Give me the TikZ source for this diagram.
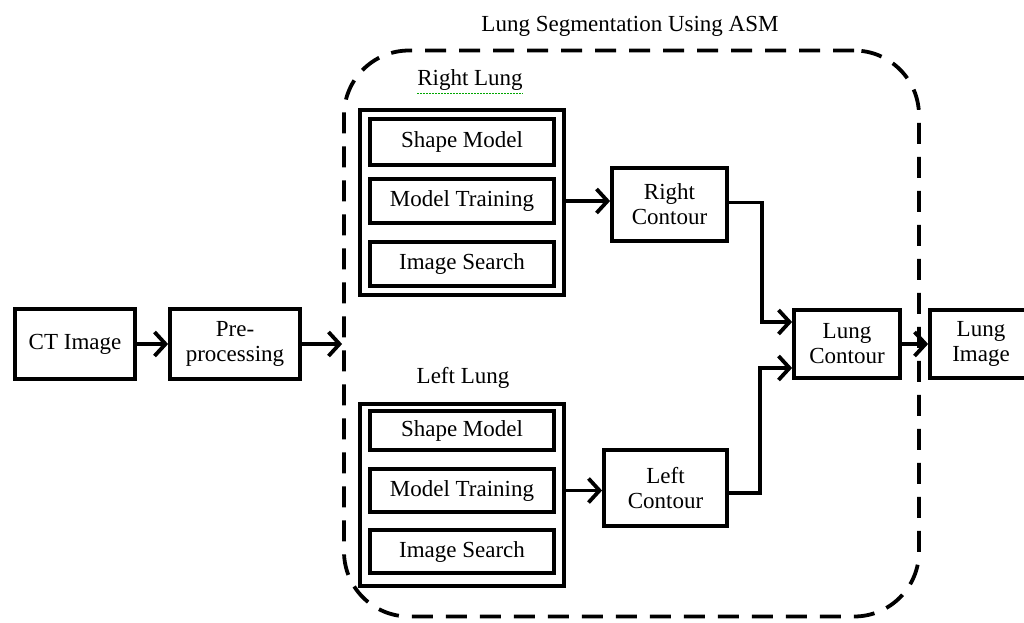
\documentclass[tikz,border=0pt]{standalone}
\usepackage{fontspec}
\setmainfont{Liberation Serif}
\usetikzlibrary{arrows.meta}
\begin{document}
\begin{tikzpicture}[x=1pt,y=-1pt,
  font=\fontsize{23}{25}\selectfont,
  blk/.style={draw,line width=3.8pt,inner sep=0pt,align=center},
  inbox/.style={draw,line width=4.5pt,inner sep=0pt,minimum width=184pt,align=center},
  arr/.style={line width=3.8pt,-{Straight Barb[length=11pt,width=24pt]}},
  lbl/.style={inner sep=0pt}]
\clip (0,0) rectangle (1024,622);
\fill[white] (0,0) rectangle (1024,622);
% container
\node[draw,dashed,dash pattern=on 21pt off 13pt,line width=3.8pt,rounded corners=65pt,
      minimum width=575pt,minimum height=566pt] (asm) at (631.5,333.5) {};
\node[lbl] (title) at (630,26) {Lung Segmentation Using ASM};
% left chain
\node[blk,minimum width=120pt,minimum height=70pt] (ct) at (75,344) {CT Image};
\node[blk,minimum width=130pt,minimum height=70pt] (pre) at (235,344) {Pre-\\processing};
% right lung
\node[lbl] (rl) at (470,80) {Right Lung};
\draw[green!65!black,dash pattern=on 1.5pt off 1.5pt,line width=1.6pt] ([yshift=-3pt]rl.south west) -- ([yshift=-3pt]rl.south east);
\node[blk,minimum width=204pt,minimum height=185pt] (rout) at (462,202.5) {};
\node[inbox,minimum height=46pt] (rshape) at (462,142) {Shape Model};
\node[inbox,minimum height=44pt] (rtrain) at (462,201) {Model Training};
\node[inbox,minimum height=44pt] (rsearch) at (462,264) {Image Search};
\node[blk,minimum width=115pt,minimum height=73pt] (rc) at (669.5,204.5) {Right\\Contour};
% left lung
\node[lbl] (ll) at (463,378) {Left Lung};
\node[blk,minimum width=204pt,minimum height=182pt] (lout) at (462,495) {};
\node[inbox,minimum height=39pt] (lshape) at (462,430.5) {Shape Model};
\node[inbox,minimum height=43pt] (ltrain) at (462,490.5) {Model Training};
\node[inbox,minimum height=43pt] (lsearch) at (462,551.5) {Image Search};
\node[blk,minimum width=123pt,minimum height=76pt] (lc) at (665.5,488) {Left\\Contour};
% output
\node[blk,minimum width=106pt,minimum height=68pt] (lcont) at (847,344) {Lung\\Contour};
\node[blk,minimum width=102pt,minimum height=68pt] (limg) at (981,344) {Lung\\Image};
% connectors
\draw[arr] (ct.east) -- (pre.west);
\draw[arr] (pre.east) -- (pre.east -| asm.west);
\draw[arr] (rout.east |- rtrain) -- (rc.west |- rtrain);
\draw[arr] (lout.east |- ltrain) -- (lc.west |- ltrain);
\draw[arr] ([yshift=2pt]rc.east) -- ++(33,0) |- ([yshift=22pt]lcont.west);
\draw[arr] ([yshift=-5pt]lc.east) -- ++(31,0) |- ([yshift=-24pt]lcont.west);
\draw[arr] (lcont.east) -- (limg.west);
\end{tikzpicture}
\end{document}
